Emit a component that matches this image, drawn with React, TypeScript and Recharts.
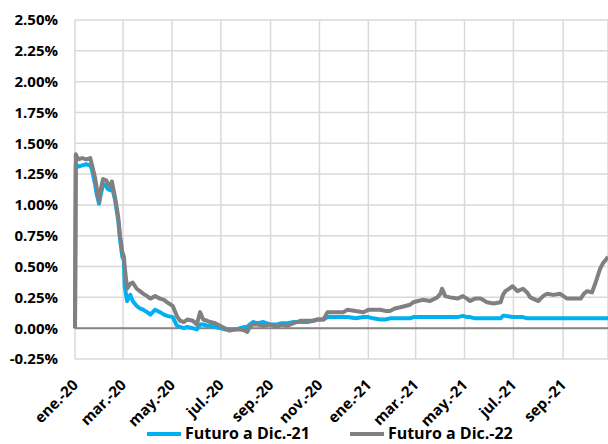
import { LineChart, Line, XAxis, YAxis, CartesianGrid, ReferenceLine, Legend } from 'recharts'

// days counted from 1 Jan 2020
const days = [
  0, 1, 4, 9, 14, 19, 21, 25, 27, 30, 32, 35, 39, 41, 44, 46, 50, 54, 56, 59,
  61, 62, 65, 69, 72, 77, 81, 85, 90, 94, 100, 106, 111, 115, 122, 127, 131, 136, 140, 147,
  152, 156, 160, 165, 169, 175, 181, 187, 193, 200, 206, 212, 215, 218, 222, 228, 235, 243, 252, 258,
  265, 273, 281, 290, 297, 303, 310, 315, 325, 335, 340, 350, 360, 366, 372, 381, 387, 393, 399, 406,
  412, 418, 422, 428, 434, 443, 452, 456, 458, 462, 468, 477, 484, 489, 493, 499, 506, 514, 522, 531,
  534, 537, 546, 552, 559, 564, 568, 578, 584, 589, 597, 605, 614, 622, 631, 635, 639, 645, 649, 652,
  655, 659, 663, 665,
]

const dic21 = [
  0, 1.33, 1.31, 1.32, 1.33, 1.32, 1.29, 1.17, 1.09, 1.01, 1.08, 1.17, 1.15, 1.13, 1.12, 1.15, 1.04, 0.87, 0.73, 0.58,
  0.55, 0.34, 0.22, 0.27, 0.22, 0.18, 0.16, 0.15, 0.13, 0.11, 0.15, 0.13, 0.11, 0.1, 0.09, 0.02, 0.01, 0.0, 0.01, 0.0,
  -0.01, 0.03, 0.03, 0.02, 0.02, 0.01, 0.0, -0.01, -0.01, -0.01, 0.0, 0.01, 0.01, 0.03, 0.05, 0.04, 0.05, 0.03, 0.03, 0.04,
  0.04, 0.05, 0.05, 0.05, 0.06, 0.07, 0.07, 0.09, 0.09, 0.09, 0.09, 0.08, 0.09, 0.09, 0.08, 0.07, 0.07, 0.08, 0.08, 0.08,
  0.08, 0.08, 0.09, 0.09, 0.09, 0.09, 0.09, 0.09, 0.09, 0.09, 0.09, 0.09, 0.1, 0.09, 0.09, 0.08, 0.08, 0.08, 0.08, 0.08,
  0.1, 0.1, 0.09, 0.09, 0.09, 0.08, 0.08, 0.08, 0.08, 0.08, 0.08, 0.08, 0.08, 0.08, 0.08, 0.08, 0.08, 0.08, 0.08, 0.08,
  0.08, 0.08, 0.08, 0.08,
]

const dic22 = [
  0, 1.41, 1.37, 1.38, 1.37, 1.38, 1.33, 1.22, 1.14, 1.03, 1.12, 1.21, 1.2, 1.17, 1.15, 1.19, 1.06, 0.9, 0.76, 0.62,
  0.58, 0.5, 0.32, 0.36, 0.37, 0.32, 0.3, 0.28, 0.26, 0.24, 0.26, 0.24, 0.23, 0.21, 0.18, 0.1, 0.06, 0.05, 0.07, 0.06,
  0.03, 0.13, 0.07, 0.06, 0.05, 0.04, 0.02, 0.0, -0.02, -0.01, -0.01, -0.02, -0.03, 0.01, 0.03, 0.03, 0.02, 0.03, 0.01, 0.03,
  0.02, 0.04, 0.06, 0.06, 0.06, 0.07, 0.07, 0.13, 0.13, 0.13, 0.15, 0.14, 0.13, 0.15, 0.15, 0.15, 0.14, 0.14, 0.16, 0.17,
  0.18, 0.19, 0.21, 0.22, 0.23, 0.22, 0.25, 0.28, 0.32, 0.26, 0.25, 0.24, 0.26, 0.24, 0.22, 0.24, 0.24, 0.21, 0.2, 0.21,
  0.27, 0.3, 0.34, 0.3, 0.32, 0.29, 0.25, 0.22, 0.26, 0.28, 0.27, 0.28, 0.24, 0.24, 0.24, 0.28, 0.3, 0.29, 0.36, 0.42,
  0.48, 0.53, 0.56, 0.58,
]

const monthTicks = [0, 60, 121, 182, 244, 305, 366, 425, 486, 547, 609]
const monthLabels = ['ene.-20', 'mar.-20', 'may.-20', 'jul.-20', 'sep.-20', 'nov.-20', 'ene.-21', 'mar.-21', 'may.-21', 'jul.-21', 'sep.-21']
const yTicks = [-0.25, 0, 0.25, 0.5, 0.75, 1, 1.25, 1.5, 1.75, 2, 2.25, 2.5]

const FONT = "'Open Sans', sans-serif"

const data = days.map((d, i) => ({ day: d, dic21: dic21[i], dic22: dic22[i] }))

const MonthTick = ({ x, y, payload }: any) => {
  const idx = monthTicks.indexOf(payload.value)
  const tx = x + 4
  const ty = y + 25
  return (
    <text
      x={tx}
      y={ty}
      transform={`rotate(-45, ${tx}, ${ty})`}
      textAnchor="end"
      fontFamily={FONT}
      fontWeight={700}
      fontSize={15}
      fill="#000"
    >
      {monthLabels[idx]}
    </text>
  )
}

const LegendBox = ({ payload }: any) => (
  <div style={{ display: 'flex', alignItems: 'center', paddingLeft: 147, height: 22, fontFamily: FONT, fontWeight: 700, fontSize: 16, color: '#000' }}>
    {(payload || []).map((p: any, i: number) => (
      <div key={p.value} style={{ display: 'flex', alignItems: 'center', marginLeft: i === 0 ? 0 : 40, whiteSpace: 'nowrap' }}>
        <span style={{ display: 'inline-block', width: 34, height: 4, background: p.color, marginRight: 4, marginTop: 2 }} />
        <span>{p.value}</span>
      </div>
    ))}
  </div>
)

export default function App() {
  return (
    <div style={{ position: 'absolute', left: 0, top: 0, width: 608, height: 444, background: '#fff', overflow: 'hidden' }}>
      <LineChart width={608} height={444} data={data} margin={{ top: 20, right: 0, left: 0, bottom: 0 }}>
        <CartesianGrid stroke="#D9D9D9" strokeWidth={1.5} />
        <XAxis
          dataKey="day"
          type="number"
          domain={[0, 665]}
          ticks={monthTicks}
          interval={0}
          axisLine={false}
          tickLine={false}
          tickSize={0}
          tick={<MonthTick />}
          height={63}
        />
        <YAxis
          type="number"
          domain={[-0.25, 2.5]}
          ticks={yTicks}
          interval={0}
          axisLine={false}
          tickLine={false}
          tickSize={0}
          tickMargin={17}
          width={75}
          tickFormatter={(v: number) => `${v.toFixed(2)}%`}
          tick={{ fontFamily: FONT, fontWeight: 700, fontSize: 15, fill: '#000' }}
        />
        <ReferenceLine y={0} stroke="#868686" strokeWidth={2} />
        <Line
          type="linear"
          dataKey="dic21"
          name="Futuro a Dic.-21"
          stroke="#00B0F0"
          strokeWidth={4}
          dot={false}
          strokeLinejoin="round"
          isAnimationActive={false}
        />
        <Line
          type="linear"
          dataKey="dic22"
          name="Futuro a Dic.-22"
          stroke="#808080"
          strokeWidth={4}
          dot={false}
          strokeLinejoin="round"
          isAnimationActive={false}
        />
        <Legend verticalAlign="bottom" content={<LegendBox />} wrapperStyle={{ left: 0, top: 422, width: 608, height: 22 }} />
      </LineChart>
    </div>
  )
}
